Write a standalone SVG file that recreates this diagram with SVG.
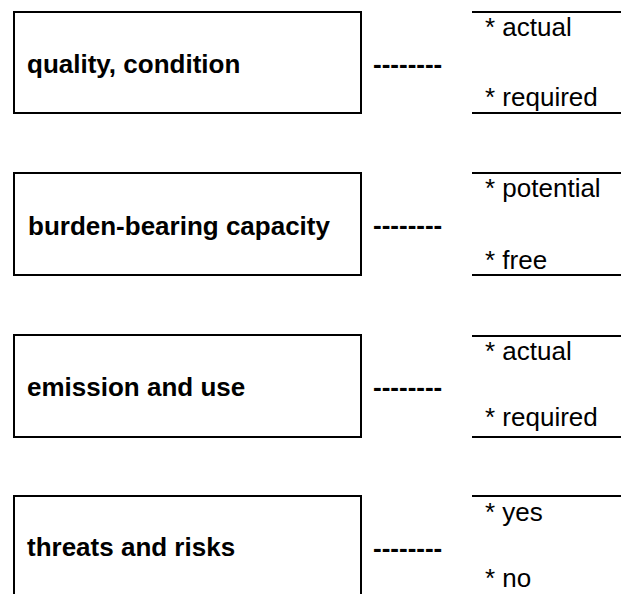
<svg xmlns="http://www.w3.org/2000/svg" width="621" height="594" viewBox="0 0 621 594">
<style>
.box{fill:#fff;stroke:#000;stroke-width:2}
.ln{stroke:#000;stroke-width:2}
.lbl{font-family:"Liberation Sans",Arial,sans-serif;font-weight:bold;font-size:26px;fill:#000}
.opt{font-family:"Liberation Sans",Arial,sans-serif;font-size:26px;fill:#000}
</style>
<rect width="621" height="594" fill="#fff"/>
<g id="node-quality">
<rect class="box" x="14" y="12" width="347" height="101"/>
<text class="lbl" x="27" y="73">quality, condition</text>
</g>
<g id="node-burden">
<rect class="box" x="14" y="173" width="347" height="102"/>
<text class="lbl" x="28" y="235">burden-bearing capacity</text>
</g>
<g id="node-emission">
<rect class="box" x="14" y="335" width="347" height="102"/>
<text class="lbl" x="27" y="396">emission and use</text>
</g>
<g id="node-threats">
<rect class="box" x="14" y="496" width="347" height="110"/>
<text class="lbl" x="27" y="556">threats and risks</text>
</g>
<g id="opts-quality">
<line class="ln" x1="472" y1="12" x2="621" y2="12"/>
<line class="ln" x1="472" y1="113" x2="621" y2="113"/>
<text class="opt" x="485" y="36">* actual</text>
<text class="opt" x="485" y="106">* required</text>
</g>
<g id="opts-burden">
<line class="ln" x1="472" y1="173" x2="621" y2="173"/>
<line class="ln" x1="472" y1="275" x2="621" y2="275"/>
<text class="opt" x="485" y="197">* potential</text>
<text class="opt" x="485" y="269">* free</text>
</g>
<g id="opts-emission">
<line class="ln" x1="472" y1="336" x2="621" y2="336"/>
<line class="ln" x1="472" y1="437" x2="621" y2="437"/>
<text class="opt" x="485" y="360">* actual</text>
<text class="opt" x="485" y="426">* required</text>
</g>
<g id="opts-threats">
<line class="ln" x1="472" y1="496" x2="621" y2="496"/>
<text class="opt" x="485" y="521">* yes</text>
<text class="opt" x="485" y="587">* no</text>
</g>
<g id="connectors">
<text class="lbl" x="373" y="73">--------</text>
<text class="lbl" x="373" y="234">--------</text>
<text class="lbl" x="373" y="396">--------</text>
<text class="lbl" x="373" y="557">--------</text>
</g>
</svg>
